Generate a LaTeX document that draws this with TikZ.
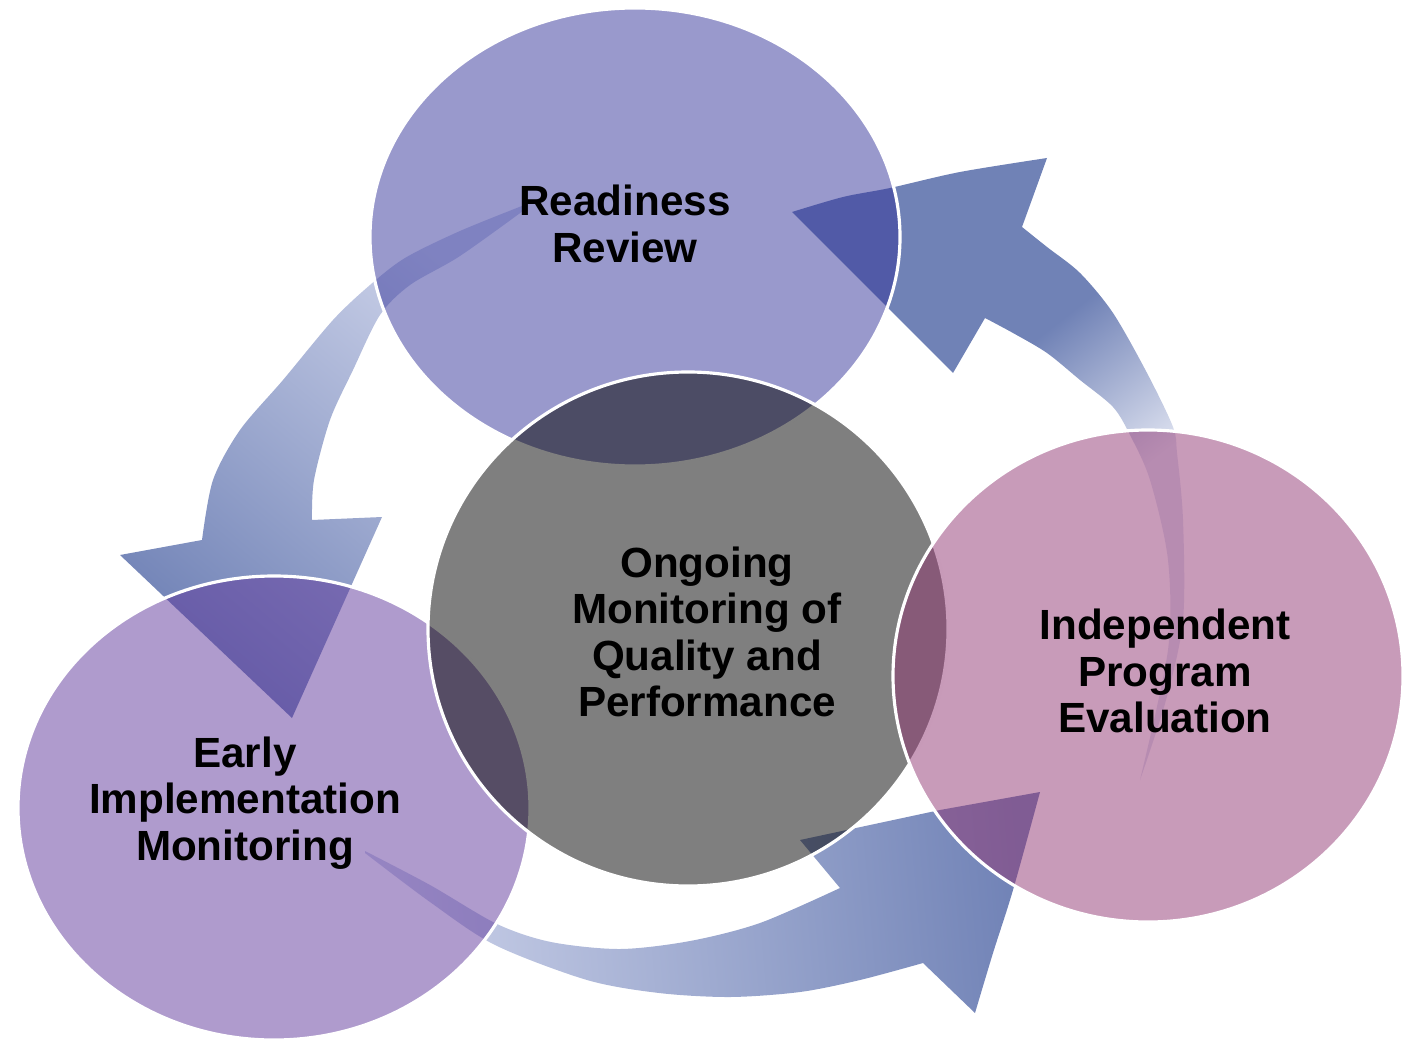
\documentclass[tikz,border=0pt]{standalone}
\usepackage{fontspec}
\setmainfont{Liberation Sans}

% Fill colours (all bubbles are drawn at half opacity)
\definecolor{reviewfill}{RGB}{51,51,153}
\definecolor{earlyfill}{RGB}{95,55,155}
\definecolor{evalfill}{RGB}{145,55,115}
\definecolor{arrowhead}{RGB}{112,130,182}
\definecolor{arrowtail}{RGB}{205,211,234}
\definecolor{arrowpale}{RGB}{222,226,240}

% Fade of the right arrow: pale along the tail, full colour near the head
\pgfdeclareverticalshading{tailfade}{100bp}{color(0bp)=(arrowpale); color(25bp)=(arrowpale);
  color(41bp)=(arrowpale); color(57bp)=(arrowhead); color(100bp)=(arrowhead)}

\begin{document}
\begin{tikzpicture}[x=0.01cm,y=-0.01cm,
  bubble/.style={draw=white,line width=0.9pt,fill opacity=0.5},
  steptext/.style={font=\fontsize{12}{13.2}\selectfont\bfseries,align=center,inner sep=0pt},
  cyclearrow/.style={draw=none,bottom color=arrowtail,top color=arrowhead}]

\useasboundingbox (0,0) rectangle (1416,1043);

% Define coordinates (bubble centres)
\coordinate (review) at (635,237);
\coordinate (early) at (274,808);
\coordinate (ongoing) at (688,629);
\coordinate (evaluation) at (1148,676);

% Cycle arrows, drawn below the bubbles
\path[draw=none,shading=tailfade,shading angle=38]
  (1140,780) -- plot[smooth] coordinates {(1140,780) (1166,700) (1183,620) (1183,520) (1177,453)
     (1173,427) (1147,373) (1113,313) (1080,273) (1047,247) (1022,227)}
  -- (1047,158)
  -- plot[smooth] coordinates {(1047,158) (960,172) (890,188) (843,197) (792,212)}
  -- (953,373) -- (985,318)
  -- plot[smooth] coordinates {(985,318) (1013,333) (1047,353) (1080,380) (1113,407)
     (1130,435) (1150,480) (1168,560) (1168,650) (1140,780)}
  -- cycle;

\path[cyclearrow,shading angle=140]
  (527,204) -- plot[smooth] coordinates {(527,204) (460,231) (405,258) (370,285) (333,320)
     (283,380) (240,430) (213,480) (202,540)}
  -- (120,555) -- (292,718) -- (382,517) -- (312,520)
  -- plot[smooth] coordinates {(312,520) (314,480) (330,420) (353,370) (380,315)
     (410,285) (460,256) (527,208)}
  -- cycle;

\path[cyclearrow,shading angle=-85]
  (365,851) -- plot[smooth] coordinates {(365,851) (430,885) (497,924) (551,942) (620,949)
     (690,941) (760,923) (840,888)}
  -- (800,840) -- (940,810) -- (1040,792)
  -- plot[smooth] coordinates {(1040,792) (1013,890) (993,953) (975,1013)}
  -- (923,963)
  -- plot[smooth] coordinates {(923,963) (860,980) (800,992) (730,997) (659,993)
     (587,980) (495,945) (430,902) (365,853)}
  -- cycle;

% Bubbles
\path[bubble,fill=reviewfill] (review) ellipse [x radius=265,y radius=229];
\path[bubble,fill=earlyfill] (early) ellipse [x radius=256,y radius=232];
\path[bubble,fill=black] (ongoing) ellipse [x radius=260,y radius=257];
\path[bubble,fill=evalfill] (evaluation) ellipse [x radius=255,y radius=246];

% Labels
\node[steptext] (reviewtext) at (625,224) {Readiness\\Review};
\node[steptext] (earlytext) at (245,803) {Early\\Implementation\\Monitoring};
\node[steptext] (ongoingtext) at (707,632) {Ongoing\\Monitoring of\\Quality and\\Performance};
\node[steptext] (evaluationtext) at (1165,671) {Independent\\Program\\Evaluation};

\end{tikzpicture}
\end{document}
